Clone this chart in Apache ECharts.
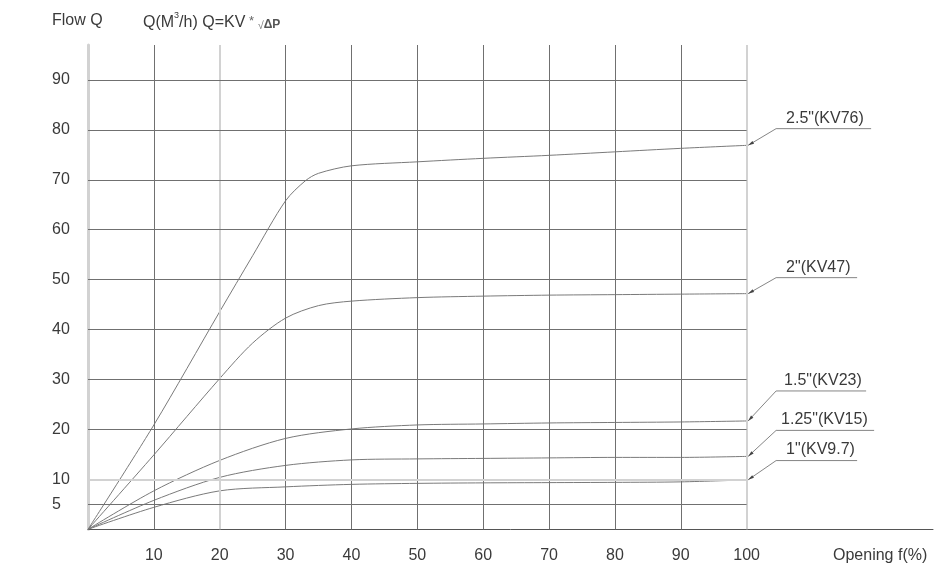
<!DOCTYPE html>
<html><head><meta charset="utf-8">
<script src="https://cdn.jsdelivr.net/npm/echarts@6/dist/echarts.min.js"></script>
<style>html,body{margin:0;padding:0;background:#fff}#c{width:942px;height:575px}</style>
</head><body><div id="c"></div>
<script>
// ---- data ----
const openingTicks = [10, 20, 30, 40, 50, 60, 70, 80, 90, 100];
const flowTicks = [5, 10, 20, 30, 40, 50, 60, 70, 80, 90];
const lightX = [20, 100];
const lightY = [10];

const x25 = [0, 10, 20, 25, 30, 33, 35, 40, 50, 60, 70, 80, 90, 100];
const q25 = [0, 20.9, 43.6, 54.8, 65.8, 69.8, 71.3, 72.8, 73.6, 74.3, 74.9, 75.6, 76.3, 76.9];
const x20 = [0, 10, 20, 25, 30, 35, 40, 50, 60, 70, 80, 90, 100];
const q20 = [0, 14.9, 30.2, 37.3, 42.3, 44.8, 45.7, 46.4, 46.7, 46.9, 47.0, 47.1, 47.2];
const xStd = [0, 10, 20, 30, 40, 50, 60, 70, 80, 90, 100];
const q15 = [0, 7.7, 13.8, 18.2, 20.1, 20.9, 21.1, 21.3, 21.4, 21.5, 21.7];
const q125 = [0, 5.8, 10.4, 12.8, 13.9, 14.1, 14.2, 14.3, 14.4, 14.4, 14.6];
const q10 = [0, 4.4, 7.7, 8.5, 9.0, 9.2, 9.3, 9.35, 9.4, 9.5, 9.9];

const seriesNames = ['2.5"(KV76)', '2"(KV47)', '1.5"(KV23)', '1.25"(KV15)', '1"(KV9.7)'];
const seriesX = [x25, x20, xStd, xStd, xStd];
const seriesQ = [q25, q20, q15, q125, q10];

// ---- chart ----
const X_MAX = 128.3, Y_MAX = 97, X_END = 100;
const DARK = '#707070', LIGHT = '#d2d2d2', CURVE = '#7a7a7a', TXT = '#3a3a3a';
const FONT = '"Liberation Sans", Arial, sans-serif';

const gridLines = [];
openingTicks.forEach(v => {
  const light = lightX.includes(v);
  gridLines.push([{ coord: [v, 0], lineStyle: { color: light ? LIGHT : DARK, width: light ? 2 : 1, type: 'solid' } }, { coord: [v, Y_MAX] }]);
});
flowTicks.forEach(v => {
  const light = lightY.includes(v);
  gridLines.push([{ coord: [0, v], lineStyle: { color: light ? LIGHT : DARK, width: light ? 2 : 1, type: 'solid' } }, { coord: [X_END, v] }]);
});

const series = [{
  type: 'line', name: 'grid', data: [[0, 0]], symbol: 'none', lineStyle: { width: 0 }, silent: true, z: 1,
  markLine: { symbol: 'none', silent: true, animation: false, label: { show: false }, data: gridLines }
}];
seriesNames.forEach((n, i) => {
  series.push({
    type: 'line', name: n, z: 3,
    data: seriesX[i].map((x, j) => [x, seriesQ[i][j]]),
    smooth: 0.3, symbol: 'none',
    lineStyle: { color: CURVE, width: 1 }
  });
});

const chart = echarts.init(document.getElementById('c'), null, { renderer: 'canvas' });
chart.setOption({
  animation: false,
  backgroundColor: '#fff',
  grid: { left: 88, right: 9, top: 45, bottom: 45.7 },
  xAxis: {
    type: 'value', min: 0, max: X_MAX, interval: 10,
    axisLine: { show: true, lineStyle: { color: '#555', width: 1 } },
    axisTick: { show: false }, splitLine: { show: false },
    axisLabel: {
      margin: 18, color: TXT, fontSize: 16, fontFamily: FONT,
      formatter: v => openingTicks.includes(v) ? String(v) : ''
    }
  },
  yAxis: {
    type: 'value', min: 0, max: Y_MAX, interval: 5,
    axisLine: { show: true, lineStyle: { color: LIGHT, width: 3 } },
    axisTick: { show: false }, splitLine: { show: false },
    axisLabel: {
      margin: 36, align: 'left', color: TXT, fontSize: 16, fontFamily: FONT,
      formatter: v => flowTicks.includes(v) ? String(v) : ''
    }
  },
  series: series
});

// annotations with leader lines
const leaderDy = [-16.7, -16, -30, -26, -19.3];
const leaderLen = [95, 81, 90, 98, 81];
const textDx = [38, 38, 36, 33, 38];
const graphics = [
  { type: 'text', left: 52, top: 13, style: { text: 'Flow Q', font: '16px ' + FONT, fill: TXT } },
  { type: 'text', left: 143, top: 11, style: {
      text: '{a|Q(M}{s|3}{a|/h) Q=KV}{m| * }{r|√}{p|ΔP}',
      rich: {
        a: { font: '16px ' + FONT, fill: TXT, verticalAlign: 'bottom', lineHeight: 20 },
        s: { font: '9px ' + FONT, fill: TXT, verticalAlign: 'top', lineHeight: 20 },
        m: { font: '13px ' + FONT, fill: '#666', verticalAlign: 'middle', lineHeight: 20 },
        r: { font: '11px ' + FONT, fill: '#777', verticalAlign: 'bottom', lineHeight: 18 },
        p: { font: 'bold 12px ' + FONT, fill: '#555', verticalAlign: 'bottom', lineHeight: 18 }
      } } }
];
seriesQ.forEach((q, i) => {
  const p = chart.convertToPixel({ gridIndex: 0 }, [X_END, q[q.length - 1]]);
  const tip = [p[0] + 1.5, p[1]];
  const d = [tip[0] + 28, tip[1] + leaderDy[i]];
  const e = [d[0] + leaderLen[i], d[1]];
  const vx = tip[0] - d[0], vy = tip[1] - d[1], L = Math.hypot(vx, vy);
  const ux = vx / L, uy = vy / L, al = 6, aw = 1.6;
  const bx = tip[0] - ux * al, by = tip[1] - uy * al;
  graphics.push({ type: 'polyline', silent: true, shape: { points: [tip, d, e] }, style: { stroke: '#666', lineWidth: 0.8, fill: null } });
  graphics.push({ type: 'polygon', silent: true, shape: { points: [tip, [bx - uy * aw, by + ux * aw], [bx + uy * aw, by - ux * aw]] }, style: { fill: '#444' } });
  graphics.push({ type: 'text', silent: true, x: tip[0] + textDx[i], y: d[1] - 10.5, style: { text: seriesNames[i], font: '16px ' + FONT, fill: TXT, align: 'left', verticalAlign: 'middle' } });
});
graphics.push({ type: 'text', left: 833, top: 548, style: { text: 'Opening f(%)', font: '16px ' + FONT, fill: TXT } });
chart.setOption({ graphic: graphics });
</script></body></html>
